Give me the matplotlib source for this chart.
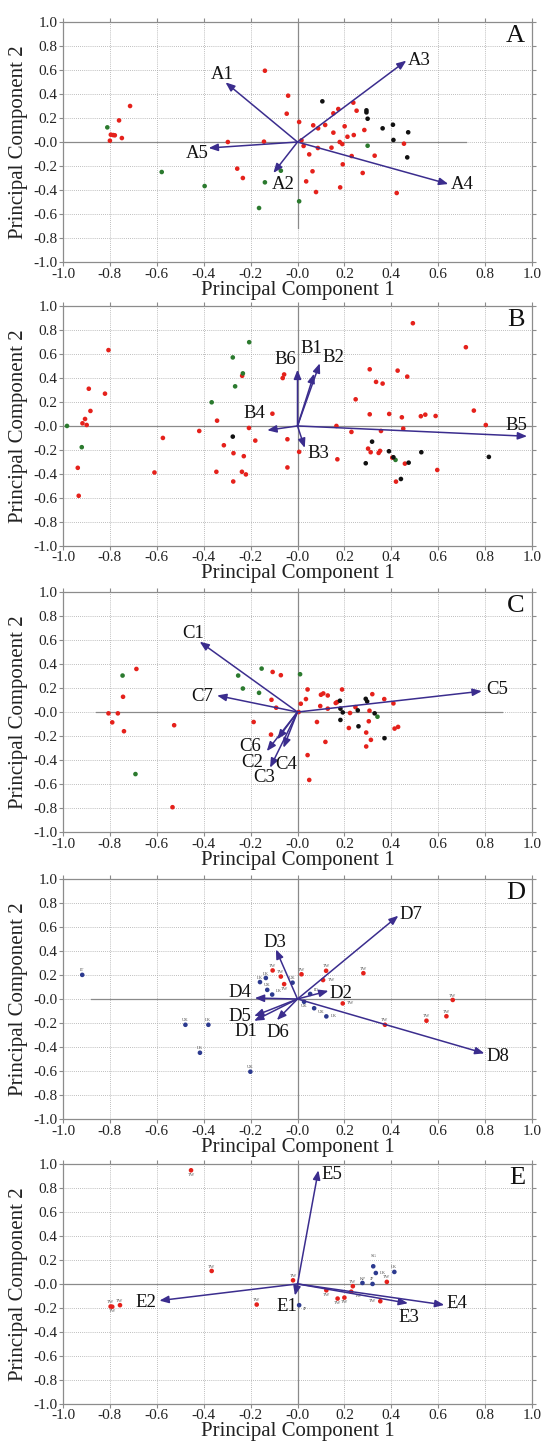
import matplotlib
matplotlib.use("Agg")
import matplotlib.pyplot as plt
import numpy as np

plt.rcParams["font.family"] = ["Liberation Serif", "DejaVu Serif"]
plt.rcParams["axes.unicode_minus"] = False

RED = "#e5211b"
GREEN = "#2b7a2e"
BLACK = "#111111"
BLUE = "#2c3a8f"
ARROW = "#3b2d8e"
FRAME = "#8c8c8c"

# ---- panel A: scores and loadings ----
a_red_x = [-0.714, -0.761, -0.796, -0.786, -0.779, -0.800, -0.749, -0.297, -0.257, -0.233,
           -0.139, -0.143, -0.040, -0.046, 0.007, 0.238, 0.252, 0.174, 0.153, 0.067,
           0.088, 0.118, 0.201, 0.285, 0.153, 0.213, 0.240, 0.017, 0.026, 0.180,
           0.191, 0.087, 0.145, 0.454, 0.050, 0.231, 0.329, 0.193, 0.064, 0.278,
           0.037, 0.182, 0.079, 0.423]
a_red_y = [0.300, 0.180, 0.061, 0.058, 0.056, 0.011, 0.033, 0.000, -0.222, -0.300,
           0.594, 0.003, 0.386, 0.236, 0.167, 0.328, 0.261, 0.275, 0.239, 0.139,
           0.114, 0.142, 0.131, 0.100, 0.078, 0.044, 0.058, 0.014, -0.033, 0.000,
           -0.017, -0.050, -0.047, -0.014, -0.103, -0.117, -0.114, -0.186, -0.244, -0.258,
           -0.328, -0.378, -0.417, -0.425]
a_green_x = [-0.811, -0.579, -0.396, -0.139, -0.164, -0.071, 0.007, 0.299]
a_green_y = [0.122, -0.250, -0.367, -0.336, -0.550, -0.239, -0.494, -0.031]
a_black_x = [0.106, 0.294, 0.294, 0.299, 0.363, 0.407, 0.472, 0.409, 0.468]
a_black_y = [0.339, 0.264, 0.247, 0.194, 0.114, 0.144, 0.081, 0.017, -0.128]
a_load_names = ["A1", "A2", "A3", "A4", "A5"]
a_load_x = [-0.307, -0.103, 0.464, 0.643, -0.379]
a_load_y = [0.497, -0.258, 0.678, -0.350, -0.050]

# ---- panel B ----
b_red_x = [-0.806, -0.890, -0.821, -0.883, -0.906, -0.917, -0.899, -0.937, -0.933, -0.574,
           -0.610, -0.419, -0.343, -0.314, -0.273, -0.346, -0.274, -0.229, -0.237, -0.220,
           -0.207, -0.180, -0.236, -0.107, -0.057, -0.063, -0.043, -0.043, 0.007,
           0.492, 0.718, 0.308, 0.427, 0.468, 0.335, 0.363, 0.248, 0.752, 0.308,
           0.391, 0.445, 0.526, 0.545, 0.589, 0.803, 0.166, 0.451, 0.230, 0.356,
           0.301, 0.312, 0.346, 0.352, 0.404, 0.458, 0.170, 0.596, 0.420]
b_red_y = [0.632, 0.310, 0.269, 0.125, 0.058, 0.022, 0.008, -0.349, -0.582, -0.100,
           -0.388, -0.042, 0.044, -0.161, -0.227, -0.382, -0.463, -0.252, -0.382, -0.404,
           -0.017, -0.122, 0.418, 0.102, 0.429, 0.399, -0.111, -0.346, -0.216,
           0.856, 0.656, 0.472, 0.461, 0.411, 0.367, 0.353, 0.222, 0.128, 0.097,
           0.100, 0.072, 0.081, 0.094, 0.083, 0.008, 0.000, -0.022, -0.050, -0.042,
           -0.189, -0.219, -0.225, -0.208, -0.264, -0.314, -0.278, -0.367, -0.464]
b_green_x = [-0.983, -0.920, -0.366, -0.276, -0.206, -0.233, -0.266, 0.418]
b_green_y = [0.000, -0.177, 0.197, 0.571, 0.698, 0.438, 0.330, -0.283]
b_black_x = [-0.276, 0.318, 0.390, 0.528, 0.409, 0.474, 0.816, 0.291, 0.441]
b_black_y = [-0.089, -0.131, -0.211, -0.219, -0.261, -0.306, -0.258, -0.311, -0.442]
b_load_names = ["B1", "B2", "B3", "B4", "B5", "B6"]
b_load_x = [0.071, 0.095, 0.031, -0.129, 0.979, 0.000]
b_load_y = [0.436, 0.522, -0.183, -0.036, -0.086, 0.469]

# ---- panel C ----
c_red_x = [-0.687, -0.744, -0.806, -0.766, -0.790, -0.740, -0.526, -0.533, -0.106, -0.071,
           -0.111, -0.091, -0.187, -0.113, 0.005, 0.014, 0.036, 0.043, 0.100, 0.110,
           0.129, 0.190, 0.097, 0.129, 0.163, 0.169, 0.224, 0.247, 0.319, 0.370,
           0.409, 0.307, 0.083, 0.304, 0.219, 0.293, 0.414, 0.429, 0.119, 0.313,
           0.293, 0.043, 0.050]
c_red_y = [0.359, 0.127, -0.011, -0.011, -0.086, -0.160, -0.110, -0.793, 0.334, 0.307,
           0.102, 0.036, -0.083, -0.188, 0.000, 0.069, 0.108, 0.188, 0.144, 0.155,
           0.138, 0.188, 0.050, 0.028, 0.075, 0.083, -0.008, 0.041, 0.149, 0.108,
           0.072, 0.011, -0.083, -0.077, -0.133, -0.171, -0.138, -0.124, -0.249, -0.232,
           -0.287, -0.359, -0.566]
c_green_x = [-0.746, -0.691, -0.253, -0.233, -0.153, -0.164, 0.011, 0.341]
c_green_y = [0.304, -0.517, 0.304, 0.196, 0.362, 0.160, 0.315, -0.039]
c_black_x = [0.181, 0.183, 0.193, 0.257, 0.291, 0.297, 0.329, 0.183, 0.260, 0.371]
c_black_y = [0.094, 0.028, -0.003, 0.014, 0.110, 0.088, -0.011, -0.066, -0.119, -0.218]
c_load_names = ["C1", "C2", "C3", "C4", "C5", "C6", "C7"]
c_load_x = [-0.417, -0.086, -0.117, -0.060, 0.786, -0.131, -0.343]
c_load_y = [0.586, -0.227, -0.464, -0.298, 0.174, -0.326, 0.138]

# ---- panel D (labelled by country) ----
d_blue_x = [-0.918, -0.478, -0.380, -0.416, -0.201, -0.135, -0.160, -0.129, -0.108, -0.021,
            0.054, 0.028, 0.071, 0.123]
d_blue_y = [0.201, -0.215, -0.215, -0.448, -0.606, 0.175, 0.141, 0.076, 0.037, 0.136,
            0.042, -0.023, -0.077, -0.145]
d_blue_tag = ["IT", "UK", "LK", "LK", "UK", "LK", "LK", "UK", "LK", "UK",
              "ID", "UK", "UK", "LK"]
d_red_x = [-0.106, -0.071, -0.057, 0.017, 0.122, 0.109, 0.281, 0.193, 0.373, 0.550,
           0.635, 0.662]
d_red_y = [0.238, 0.187, 0.124, 0.206, 0.235, 0.158, 0.215, -0.037, -0.215, -0.181,
           -0.144, -0.008]
d_red_tag = ["TW"] * 12
d_load_names = ["D1", "D2", "D3", "D4", "D5", "D6", "D7", "D8"]
d_load_x = [-0.185, 0.132, -0.092, -0.182, -0.185, -0.088, 0.430, 0.797]
d_load_y = [-0.182, 0.068, 0.413, 0.008, -0.142, -0.176, 0.694, -0.453]

# ---- panel E ----
e_red_x = [-0.454, -0.366, -0.797, -0.790, -0.757, -0.174, -0.019, 0.123, 0.171, 0.200,
           0.236, 0.229, 0.353, 0.381]
e_red_y = [0.947, 0.108, -0.188, -0.190, -0.177, -0.172, 0.030, -0.053, -0.122, -0.114,
           -0.019, -0.065, -0.144, 0.017]
e_red_tag = ["TW"] * 14
e_blue_x = [0.007, 0.277, 0.320, 0.323, 0.334, 0.413]
e_blue_y = [-0.177, 0.008, 0.000, 0.147, 0.091, 0.100]
e_blue_tag = ["JP", "KP", "JP", "SG", "LK", "LK"]
e_load_names = ["E1", "E2", "E3", "E4", "E5"]
e_load_x = [-0.011, -0.589, 0.471, 0.626, 0.089]
e_load_y = [-0.097, -0.139, -0.161, -0.175, 0.947]

# where each arrow label sits relative to the arrow tip (points)
label_offsets = {
    "A1": (-2, 6), "A2": (7, -8), "A3": (9, 0), "A4": (10, 0), "A5": (-8, -4),
    "B1": (-2, 18), "B2": (10, 4), "B3": (10, -4), "B4": (-9, 12), "B5": (-8, 8), "B6": (-9, 7),
    "C1": (-5, 6), "C2": (-18, -17), "C3": (-4, -7), "C4": (2, -12), "C5": (11, 1),
    "C6": (-12, 3), "C7": (-11, -1),
    "D1": (-6, -8), "D2": (9, -2), "D3": (-1, 5), "D4": (-11, 4), "D5": (-10, 0),
    "D6": (1, -9), "D7": (9, 1), "D8": (10, -2),
    "E1": (-6, -8), "E2": (-10, -1), "E3": (1, -10), "E4": (9, 1), "E5": (10, -3),
}

# direction of each point tag from its dot
tag_dirs = {"n": (0, 3.2, "center"), "N": (0, 7.5, "center"), "s": (0, -3.4, "center"),
            "e": (3.2, 0, "left"), "w": (-3.2, 0, "right"),
            "ne": (2.5, 2.8, "left"), "nw": (-2.5, 2.8, "right"),
            "se": (2.5, -3, "left"), "sw": (-2.5, -3, "right")}
d_blue_dir = ["n", "n", "n", "n", "n", "n", "n", "n", "ne", "n", "ne", "s", "se", "e"]
d_red_dir = ["n", "n", "s", "n", "n", "e", "n", "e", "n", "n", "n", "n"]
e_red_dir = ["s", "n", "n", "s", "n", "n", "n", "s", "s", "s", "n", "se", "w", "n"]
e_blue_dir = ["se", "n", "n", "N", "e", "n"]

# extent of the solid zero lines in each panel: (x0, x1) for y=0, (y0, y1) for x=0
zero_lines = {
    "A": ((-1.0, 0.72), (-0.72, 1.0)),
    "B": ((-1.0, 1.0), (-1.0, 1.0)),
    "C": ((-0.86, 0.87), (-1.0, 1.0)),
    "D": ((-0.88, 1.0), (-1.0, 1.0)),
    "E": ((-1.0, 1.0), (-1.0, 1.0)),
}

fig = plt.figure(figsize=(5.42, 14.42), dpi=100)

panel_bottoms = [0.8183, 0.6214, 0.4230, 0.2240, 0.0264]
ax_left, ax_width, ax_height = 63 / 542, 469 / 542, 240 / 1442


def setup_axes(ax, letter):
    ax.set_xlim(-1.0, 1.0)
    ax.set_ylim(-1.0, 1.0)
    ticks = np.round(np.arange(-1.0, 1.01, 0.2), 1)
    ax.set_xticks(ticks)
    ax.set_yticks(ticks)
    ax.set_xticklabels([f"{t:.1f}" for t in ticks])
    ax.set_yticklabels([f"{t:.1f}" for t in ticks])
    ax.tick_params(direction="out", length=3, width=0.8, color=FRAME, labelsize=11,
                   pad=1, top=True, right=True, labeltop=False, labelright=False,
                   labelcolor="#222222")
    ax.grid(True, color="#a8a8a8", linestyle=(0, (1, 1.5)), linewidth=0.6)
    ax.set_axisbelow(True)
    for sp in ax.spines.values():
        sp.set_color(FRAME)
        sp.set_linewidth(0.9)
    (hx0, hx1), (vy0, vy1) = zero_lines[letter]
    ax.plot([hx0, hx1], [0, 0], color="#8a8a8a", lw=0.9, zorder=1)
    ax.plot([0, 0], [vy0, vy1], color="#8a8a8a", lw=0.9, zorder=1)
    ax.set_xlabel("Principal Component 1", fontsize=15, labelpad=0, color="#222222")
    ax.set_ylabel("Principal Component 2", fontsize=15, color="#222222")
    ax.yaxis.set_label_coords(-0.074, 0.5)
    ax.text(0.985, 0.94, letter, transform=ax.transAxes, ha="right", va="center",
            fontsize=19, color="#111111")


def draw_points(ax, xs, ys, color):
    ax.scatter(xs, ys, s=11, color=color, edgecolors="none", zorder=3)


def draw_tags(ax, xs, ys, tags, dirs):
    for x, y, t, d in zip(xs, ys, tags, dirs):
        dx, dy, ha = tag_dirs[d]
        ax.annotate(t, (x, y), xytext=(dx, dy), textcoords="offset points",
                    ha=ha, va="center", fontsize=3.3, color="#555555", zorder=4)


def draw_loadings(ax, names, xs, ys):
    for n, x, y in zip(names, xs, ys):
        ax.annotate("", xy=(x, y), xytext=(0, 0),
                    arrowprops=dict(arrowstyle="-|>,head_length=0.55,head_width=0.22",
                                    color=ARROW, lw=1.1, shrinkA=0, shrinkB=0,
                                    mutation_scale=10),
                    zorder=5)
        dx, dy = label_offsets[n]
        ax.annotate(n, (x, y), xytext=(dx, dy), textcoords="offset points",
                    ha="center", va="center", fontsize=13.5, color="#111111", zorder=6)


axes = [fig.add_axes([ax_left, b, ax_width, ax_height]) for b in panel_bottoms]
ax_a, ax_b, ax_c, ax_d, ax_e = axes

setup_axes(ax_a, "A")
draw_points(ax_a, a_red_x, a_red_y, RED)
draw_points(ax_a, a_green_x, a_green_y, GREEN)
draw_points(ax_a, a_black_x, a_black_y, BLACK)
draw_loadings(ax_a, a_load_names, a_load_x, a_load_y)

setup_axes(ax_b, "B")
draw_points(ax_b, b_red_x, b_red_y, RED)
draw_points(ax_b, b_green_x, b_green_y, GREEN)
draw_points(ax_b, b_black_x, b_black_y, BLACK)
draw_loadings(ax_b, b_load_names, b_load_x, b_load_y)

setup_axes(ax_c, "C")
draw_points(ax_c, c_red_x, c_red_y, RED)
draw_points(ax_c, c_green_x, c_green_y, GREEN)
draw_points(ax_c, c_black_x, c_black_y, BLACK)
draw_loadings(ax_c, c_load_names, c_load_x, c_load_y)

setup_axes(ax_d, "D")
draw_points(ax_d, d_blue_x, d_blue_y, BLUE)
draw_points(ax_d, d_red_x, d_red_y, RED)
draw_tags(ax_d, d_blue_x, d_blue_y, d_blue_tag, d_blue_dir)
draw_tags(ax_d, d_red_x, d_red_y, d_red_tag, d_red_dir)
draw_loadings(ax_d, d_load_names, d_load_x, d_load_y)

setup_axes(ax_e, "E")
draw_points(ax_e, e_red_x, e_red_y, RED)
draw_points(ax_e, e_blue_x, e_blue_y, BLUE)
draw_tags(ax_e, e_red_x, e_red_y, e_red_tag, e_red_dir)
draw_tags(ax_e, e_blue_x, e_blue_y, e_blue_tag, e_blue_dir)
draw_loadings(ax_e, e_load_names, e_load_x, e_load_y)

fig.savefig("out.png", dpi=100, facecolor="white")
